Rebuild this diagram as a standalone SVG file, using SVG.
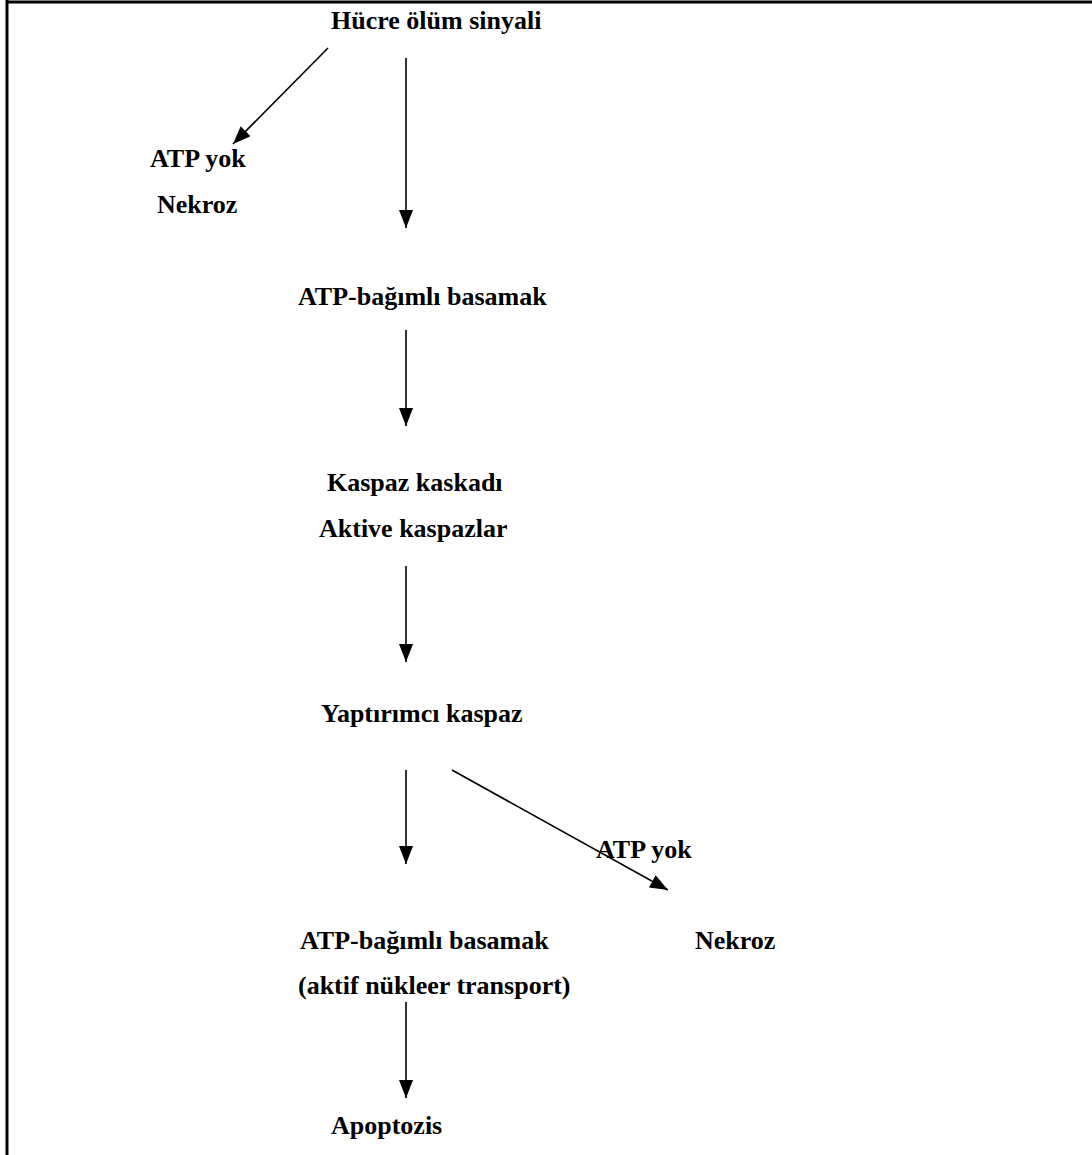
<svg xmlns="http://www.w3.org/2000/svg" width="1092" height="1155" viewBox="0 0 1092 1155">
<style>
text{font-family:"Liberation Serif","Times New Roman",serif;font-weight:bold;font-size:26px;fill:#000}
.c{stroke:#000;stroke-width:1.6;fill:none}
.frame{stroke:#000;stroke-width:3;fill:none}
</style>
<defs>
<marker id="ah" viewBox="0 0 18 14" refX="18" refY="7" markerWidth="18" markerHeight="14" markerUnits="userSpaceOnUse" orient="auto">
<path d="M0,0 L18,7 L0,14 z" fill="#000"/>
</marker>
</defs>
<rect width="1092" height="1155" fill="#fff"/>
<g id="frame">
<line class="frame" x1="6" y1="2" x2="1092" y2="2"/>
<line class="frame" x1="7" y1="0" x2="7" y2="1155"/>
</g>
<g id="connectors">
<line class="c" x1="328" y1="48" x2="233" y2="144" marker-end="url(#ah)"/>
<line class="c" x1="406" y1="58" x2="406" y2="228" marker-end="url(#ah)"/>
<line class="c" x1="406" y1="330" x2="406" y2="426" marker-end="url(#ah)"/>
<line class="c" x1="406" y1="566" x2="406" y2="662" marker-end="url(#ah)"/>
<line class="c" x1="406" y1="770" x2="406" y2="864" marker-end="url(#ah)"/>
<line class="c" x1="452" y1="770" x2="668" y2="890" marker-end="url(#ah)"/>
<line class="c" x1="406" y1="1002" x2="406" y2="1098" marker-end="url(#ah)"/>
</g>
<g id="signal"><text x="331" y="29">Hücre ölüm sinyali</text></g>
<g id="necrosis1"><text x="150" y="167">ATP yok</text><text x="157" y="213">Nekroz</text></g>
<g id="atp1"><text x="298" y="305">ATP-bağımlı basamak</text></g>
<g id="cascade"><text x="327" y="491">Kaspaz kaskadı</text><text x="319" y="537">Aktive kaspazlar</text></g>
<g id="executioner"><text x="321" y="722">Yaptırımcı kaspaz</text></g>
<g id="atpno2"><text x="596" y="858">ATP yok</text></g>
<g id="atp2"><text x="300" y="949">ATP-bağımlı basamak</text><text x="298" y="994">(aktif nükleer transport)</text></g>
<g id="necrosis2"><text x="695" y="949">Nekroz</text></g>
<g id="apoptosis"><text x="331" y="1134">Apoptozis</text></g>
</svg>
